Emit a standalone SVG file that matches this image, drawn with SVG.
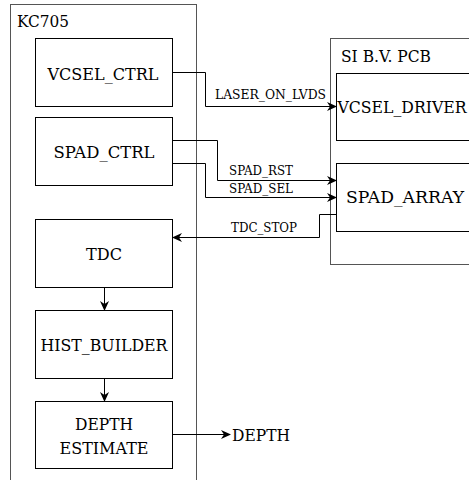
<svg xmlns="http://www.w3.org/2000/svg" width="469" height="480" viewBox="0 0 469 480">
  <style>
    .bg { fill: #ffffff; }
    .container { fill: none; stroke: #555555; stroke-width: 1; }
    .block { fill: #ffffff; stroke: #000000; stroke-width: 1; }
    .title { font-family: "DejaVu Serif", "Liberation Serif", serif; font-size: 16.5px; fill: #000; }
    .name { font-family: "DejaVu Serif", "Liberation Serif", serif; font-size: 16.5px; text-anchor: middle; fill: #000; }
    .sig { font-family: "DejaVu Serif", "Liberation Serif", serif; font-size: 12.4px; fill: #000; }
    .wire { fill: none; stroke: #000000; stroke-width: 1; }
  </style>
  <defs>
    <marker id="arrow" viewBox="0 0 10 10" refX="9" refY="5" markerWidth="10" markerHeight="10" markerUnits="userSpaceOnUse" orient="auto">
      <path d="M0,0.5 L10,5 L0,9.5 L3,5 Z" fill="#000000"/>
    </marker>
  </defs>

  <rect class="bg" x="0" y="0" width="469" height="480"/>

  <!-- FPGA board -->
  <g id="kc705">
    <rect class="container" x="10.5" y="4.5" width="186" height="476"/>
    <text class="title" x="17" y="27" textLength="52" lengthAdjust="spacingAndGlyphs">KC705</text>
  </g>

  <!-- sensor board -->
  <g id="si-pcb">
    <rect class="container" x="330.5" y="38.5" width="150" height="226"/>
    <text class="title" x="341" y="62" textLength="90" lengthAdjust="spacingAndGlyphs">SI B.V. PCB</text>
  </g>

  <g id="vcsel-ctrl">
    <rect class="block" x="35.5" y="38.5" width="137" height="68"/>
    <text class="name" x="103" y="80" textLength="111" lengthAdjust="spacingAndGlyphs">VCSEL_CTRL</text>
  </g>

  <g id="spad-ctrl">
    <rect class="block" x="35.5" y="117.5" width="137" height="68"/>
    <text class="name" x="104" y="158" textLength="101" lengthAdjust="spacingAndGlyphs">SPAD_CTRL</text>
  </g>

  <g id="tdc">
    <rect class="block" x="35.5" y="219.5" width="137" height="68"/>
    <text class="name" x="104" y="260" textLength="36" lengthAdjust="spacingAndGlyphs">TDC</text>
  </g>

  <g id="hist-builder">
    <rect class="block" x="35.5" y="310.5" width="137" height="68"/>
    <text class="name" x="104" y="351" textLength="127" lengthAdjust="spacingAndGlyphs">HIST_BUILDER</text>
  </g>

  <g id="depth-estimate">
    <rect class="block" x="35.5" y="401.5" width="137" height="67"/>
    <text class="name" x="104" y="430" textLength="58" lengthAdjust="spacingAndGlyphs">DEPTH</text>
    <text class="name" x="104" y="454" textLength="89" lengthAdjust="spacingAndGlyphs">ESTIMATE</text>
  </g>

  <g id="vcsel-driver">
    <rect class="block" x="336.5" y="73.5" width="140" height="67"/>
    <text class="name" x="402" y="113" textLength="129" lengthAdjust="spacingAndGlyphs">VCSEL_DRIVER</text>
  </g>

  <g id="spad-array">
    <rect class="block" x="336.5" y="163.5" width="140" height="68"/>
    <text class="name" x="405" y="203" textLength="118" lengthAdjust="spacingAndGlyphs">SPAD_ARRAY</text>
  </g>

  <g id="depth-out">
    <text class="title" x="232" y="441" textLength="58" lengthAdjust="spacingAndGlyphs">DEPTH</text>
  </g>

  <!-- signal connections -->
  <g id="connectors">
    <path class="wire" d="M172.5,72.5 H205.5 V106.5 H336" marker-end="url(#arrow)"/>
    <text class="sig" x="215" y="99" textLength="111" lengthAdjust="spacingAndGlyphs">LASER_ON_LVDS</text>

    <path class="wire" d="M172.5,140.5 H217.5 V180.5 H336" marker-end="url(#arrow)"/>
    <text class="sig" x="229" y="175" textLength="64" lengthAdjust="spacingAndGlyphs">SPAD_RST</text>

    <path class="wire" d="M172.5,163.5 H205.5 V197.5 H336" marker-end="url(#arrow)"/>
    <text class="sig" x="229" y="193" textLength="64" lengthAdjust="spacingAndGlyphs">SPAD_SEL</text>

    <path class="wire" d="M336.5,214.5 H319.5 V237.5 H173" marker-end="url(#arrow)"/>
    <text class="sig" x="231" y="232" textLength="66" lengthAdjust="spacingAndGlyphs">TDC_STOP</text>

    <path class="wire" d="M104.5,288 V310" marker-end="url(#arrow)"/>
    <path class="wire" d="M104.5,379 V401" marker-end="url(#arrow)"/>

    <path class="wire" d="M172.5,434.5 H230" marker-end="url(#arrow)"/>
  </g>
</svg>
